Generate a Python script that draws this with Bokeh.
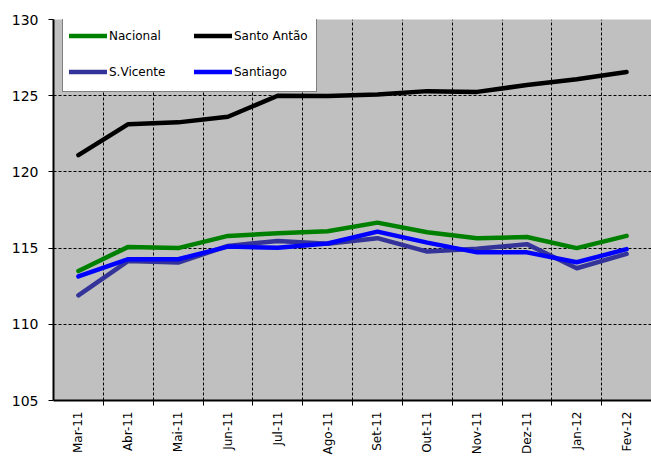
import math
from bokeh.plotting import figure
from bokeh.models import FixedTicker, Legend, LegendItem, Range1d
from bokeh.embed import file_html
from bokeh.resources import INLINE

months = ["Mar-11", "Abr-11", "Mai-11", "Jun-11", "Jul-11", "Ago-11",
          "Set-11", "Out-11", "Nov-11", "Dez-11", "Jan-12", "Fev-12"]
nacional = [113.5, 115.08, 115.0, 115.8, 115.97, 116.1, 116.67, 116.04, 115.65, 115.73, 115.0, 115.8]
santo_antao = [121.1, 123.13, 123.25, 123.62, 125.0, 124.98, 125.08, 125.3, 125.25, 125.7, 126.08, 126.55]
s_vicente = [111.9, 114.16, 114.05, 115.14, 115.47, 115.28, 115.65, 114.77, 114.95, 115.26, 113.68, 114.62]
santiago = [113.14, 114.27, 114.27, 115.1, 115.03, 115.3, 116.08, 115.36, 114.72, 114.72, 114.07, 114.93]
y_ticks = [105, 110, 115, 120, 125, 130]

series = [("Nacional", nacional, "#008000"),
          ("Santo Antão", santo_antao, "#000000"),
          ("S.Vicente", s_vicente, "#333399"),
          ("Santiago", santiago, "#0000FF")]

FONT = "DejaVu Sans"
xs = list(range(len(months)))

p = figure(width=651, height=457, x_range=Range1d(-0.5, len(months) - 0.5),
           y_range=Range1d(105, 130), output_backend="svg", toolbar_location=None,
           min_border_left=53, min_border_top=19, min_border_right=0, min_border_bottom=56)
p.background_fill_color = "#C0C0C0"
p.border_fill_color = "white"
p.outline_line_color = None

# grids
p.xgrid.ticker = FixedTicker(ticks=[i + 0.5 for i in range(len(months) - 1)])
p.ygrid.ticker = FixedTicker(ticks=y_ticks)
for g in (p.xgrid, p.ygrid):
    g.grid_line_color = "black"
    g.grid_line_dash = "3 2"
    g.grid_line_width = 1

# x axis
xa = p.xaxis[0]
xa.axis_label = None
xa.axis_label_standoff = 0
xa.ticker = FixedTicker(ticks=xs, minor_ticks=[i + 0.5 for i in range(len(months) - 1)])
xa.major_label_overrides = {i: m for i, m in enumerate(months)}
xa.major_tick_line_color = None
xa.major_tick_out = 0
xa.major_tick_in = 0
xa.minor_tick_out = 5
xa.minor_tick_in = 0
xa.minor_tick_line_color = "black"
xa.axis_line_color = "black"
xa.axis_line_width = 2
xa.major_label_orientation = math.pi / 2
xa.major_label_standoff = 6
xa.major_label_text_font = FONT
xa.major_label_text_font_size = "12px"
xa.major_label_text_color = "black"

# y axis
ya = p.yaxis[0]
ya.axis_label = None
ya.axis_label_standoff = 0
ya.ticker = FixedTicker(ticks=y_ticks)
ya.minor_tick_line_color = None
ya.major_tick_out = 5
ya.major_tick_in = 0
ya.major_tick_line_color = "black"
ya.axis_line_color = "black"
ya.axis_line_width = 2
ya.major_label_standoff = 10
ya.major_label_text_font = FONT
ya.major_label_text_font_size = "14px"
ya.major_label_text_color = "black"

items = []
for name, vals, col in series:
    r = p.line(xs, vals, line_color=col, line_width=4.5, line_cap="round", line_join="round")
    items.append(LegendItem(label=name, renderers=[r]))

legend = Legend(items=items, orientation="horizontal", ncols=2,
                location=(9, 308), margin=0, padding=6, spacing=9,
                glyph_width=38, glyph_height=27, label_height=27, label_width=76,
                label_standoff=2, label_text_font=FONT, label_text_font_size="12px",
                label_text_color="black", border_line_color="black", border_line_width=1,
                background_fill_color="white", background_fill_alpha=1.0)
p.add_layout(legend, "center")

open("out.html", "w").write(file_html(p, INLINE))
